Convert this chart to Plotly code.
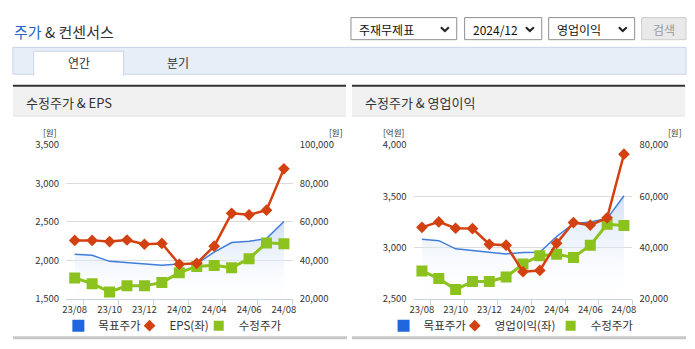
import plotly.graph_objects as go

# ---------------- data ----------------
months = ["23/08", "23/09", "23/10", "23/11", "23/12", "24/01", "24/02",
          "24/03", "24/04", "24/05", "24/06", "24/07", "24/08"]
tick_labels = ["23/08", "23/10", "23/12", "24/02", "24/04", "24/06", "24/08"]

target_price = [43200, 42700, 39500, 38800, 38100, 37500, 38100,
                38200, 44300, 49300, 50000, 51300, 60200]      # 목표주가
adj_price = [30900, 27900, 23600, 26750, 26750, 28500, 33600,
             36850, 37400, 36150, 40900, 49100, 48600]         # 수정주가
eps = [2260, 2260, 2245, 2265, 2210, 2220, 1950,
       1962, 2185, 2612, 2592, 2653, 3190]                     # EPS(좌)
op_profit = [3197, 3250, 3188, 3185, 3032, 3023, 2764,
             2777, 3041, 3244, 3219, 3290, 3910]               # 영업이익(좌)

# ---------------- helpers ----------------
W, H = 695, 349
FONT = "Noto Sans CJK KR, Noto Sans, sans-serif"
def fx(p): return p / W
def fy(p): return 1 - p / H

BLUE = "#3f7ddc"
RED = "#d2410f"
GREEN = "#8cc21d"
AXIS = "#c6d3e0"
GRID = "#dcdcdc"
TXT = "#333333"

idx = list(range(len(months)))
tickvals = [months.index(t) for t in tick_labels]

fig = go.Figure()
legend_cfgs = {}

def add_legend_item(key, name, symbol, size, color, xa, ya, text_start_px):
    fig.add_trace(go.Scatter(
        x=[None], y=[None], mode="markers", xaxis=xa, yaxis=ya,
        marker=dict(symbol=symbol, size=size, color=color),
        name=name, legend=key, showlegend=True))
    legend_cfgs[key] = dict(orientation="h", x=fx(text_start_px - 45), xanchor="left",
                            y=fy(331), yanchor="middle", itemwidth=30,
                            font=dict(family=FONT, size=11.5, color=TXT),
                            bgcolor="rgba(0,0,0,0)", borderwidth=0)

def add_chart(xa, ya_price, ya_left, left_vals, left_name, legend_keys, legend_px):
    # area: 목표주가
    fig.add_trace(go.Scatter(
        x=idx, y=target_price, mode="lines", xaxis=xa, yaxis=ya_price,
        line=dict(color=BLUE, width=1.5), fill="tozeroy",
        fillgradient=dict(type="vertical", start=20000, stop=max(target_price),
                          colorscale=[[0, "rgba(255,255,255,0)"],
                                      [1, "rgba(196,216,244,0.75)"]]),
        name="목표주가", showlegend=False, hoverinfo="skip"))
    # 수정주가
    fig.add_trace(go.Scatter(
        x=idx, y=adj_price, mode="lines+markers", xaxis=xa, yaxis=ya_price,
        line=dict(color=GREEN, width=3),
        marker=dict(symbol="square", size=11, color=GREEN),
        name="수정주가", showlegend=False))
    # left-axis series (drawn on top)
    fig.add_trace(go.Scatter(
        x=idx, y=left_vals, mode="lines+markers", xaxis=xa, yaxis=ya_left,
        line=dict(color=RED, width=2.5),
        marker=dict(symbol="diamond", size=9, color=RED),
        name=left_name, showlegend=False))
    # legend entries
    add_legend_item(legend_keys[0], "목표주가", "square", 12, "#2266dd", xa, ya_price, legend_px[0])
    add_legend_item(legend_keys[1], left_name, "diamond", 9, RED, xa, ya_left, legend_px[1])
    add_legend_item(legend_keys[2], "수정주가", "square", 10, GREEN, xa, ya_price, legend_px[2])

add_chart("x", "y", "y2", eps, "EPS(좌)", ["legend", "legend2", "legend3"],
          [100, 172, 242])
add_chart("x2", "y3", "y4", op_profit, "영업이익(좌)", ["legend4", "legend5", "legend6"],
          [429, 501, 598])

tickfont = dict(family=FONT, size=9.5, color=TXT)

def xaxis_cfg(x0, x1, anchor):
    return dict(domain=[fx(x0), fx(x1)], range=[-0.5, len(months) - 0.5],
                tickmode="array", tickvals=tickvals, ticktext=tick_labels,
                ticks="", showgrid=False, zeroline=False, showline=True,
                linecolor=AXIS, linewidth=1, tickfont=tickfont, anchor=anchor,
                ticklabelstandoff=2,
                minor=dict(tickmode="linear", tick0=0.5, dtick=2, ticks="outside",
                           ticklen=5, tickcolor=AXIS, showgrid=False))

def yaxis_cfg(rng, dt, side, xa, overlay=None, grid=True):
    d = dict(range=rng, dtick=dt, tick0=rng[0],
             side=side, anchor=xa, showgrid=grid, gridcolor=GRID, gridwidth=1,
             zeroline=False, showline=False, ticks="", tickformat=",d",
             tickfont=tickfont, ticklabelstandoff=6)
    if overlay:
        d["overlaying"] = overlay
    else:
        d["domain"] = [fy(303), fy(142.7)]
    return d

layout = dict(
    width=W, height=H, margin=dict(l=0, r=0, t=0, b=0),
    paper_bgcolor="white", plot_bgcolor="rgba(0,0,0,0)",
    font=dict(family=FONT, color=TXT),
    xaxis=xaxis_cfg(62.7, 292, "y"),
    xaxis2=xaxis_cfg(414.3, 635.7, "y3"),
    yaxis=yaxis_cfg([20000, 100000], 20000, "right", "x"),
    yaxis2=yaxis_cfg([1500, 3500], 500, "left", "x", overlay="y", grid=False),
    yaxis3=yaxis_cfg([20000, 80000], 20000, "right", "x2"),
    yaxis4=yaxis_cfg([2500, 4000], 500, "left", "x2", overlay="y3", grid=False),
    hovermode=False,
)
layout.update(legend_cfgs)
fig.update_layout(**layout)

shapes = []
ann = []

def rect(x0, y0, x1, y1, fill, line=None, lw=1):
    shapes.append(dict(type="rect", xref="paper", yref="paper",
                       x0=fx(x0), x1=fx(x1), y0=fy(y1), y1=fy(y0),
                       fillcolor=fill, line=dict(color=line or fill, width=lw if line else 0),
                       layer="below"))

def text(x, y, s, size=12, color=TXT, xanchor="left"):
    ann.append(dict(text=s, x=fx(x), y=fy(y), xref="paper", yref="paper",
                    xanchor=xanchor, yanchor="middle", showarrow=False,
                    font=dict(family=FONT, size=size, color=color)))

# header title
text(8, 25, "<span style='color:#2a63c8'>주가</span> & 컨센서스", size=15)

# dropdowns
for (x0, x1, label) in [(351, 458, "주재무제표"), (466, 544, "2024/12"), (551, 638, "영업이익")]:
    rect(x0, 10, x1, 33, "white", "#8f8f8f", 1)
    text(x0 + 6, 22, label, size=12, color="#111")
    cx = x1 - 12
    shapes.append(dict(type="path", xref="paper", yref="paper",
                       path=f"M {fx(cx-4)} {fy(20)} L {fx(cx)} {fy(24)} L {fx(cx+4)} {fy(20)}",
                       line=dict(color="#222", width=2)))
rect(645, 10, 690, 33, "#e9e9e9", "#cfcfcf", 1)
text(667.5, 22, "검색", size=12, color="#9a9a9a", xanchor="center")

# tab bar
rect(9, 41, 690, 69, "#e8eef8", "#c9d5e6", 1)
rect(30, 45, 121, 70, "white", "#c9d5e6", 1)
rect(31, 67, 120, 71, "white")
text(75.5, 57, "연간", size=12, xanchor="center")
text(176, 57, "분기", size=12, xanchor="center")

# panels
for (x0, x1, title) in [(9, 346, "수정주가 & EPS"), (352, 689, "수정주가 & 영업이익")]:
    rect(x0, 82, x1, 112, "#f1f1f1")
    rect(x0, 80, x1, 82, "#333333")
    rect(x0, 112, x1, 113, "#dddddd")
    text(x0 + 11, 98, title, size=13, color="#333")
    rect(x0, 342, x1 + 1, 345, "#c8c8c8")

# unit labels
text(46.5, 129, "[원]", size=8.5, xanchor="center")
text(335.5, 129, "[원]", size=8.5, xanchor="center")
text(394, 129, "[억원]", size=8.5, xanchor="center")
text(679, 129, "[원]", size=8.5, xanchor="center")

fig.update_layout(shapes=shapes, annotations=ann)
fig.write_html("out.html")
